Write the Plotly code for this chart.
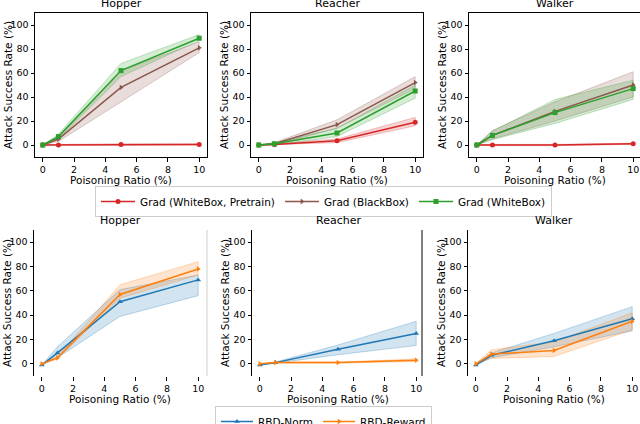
import plotly.graph_objects as go

W, H = 640, 424
x_ratio = [0, 1, 5, 10]
x_ticks = [0, 2, 4, 6, 8, 10]
y_ticks = [0, 20, 40, 60, 80, 100]
envs = ["Hopper", "Reacher", "Walker"]

# ---- top row: Grad attacks ----
grad_names = ["Grad (WhiteBox, Pretrain)", "Grad (BlackBox)", "Grad (WhiteBox)"]
grad_colors = ["#d62728", "#8c564b", "#2ca02c"]
grad_symbols = ["circle", "triangle-right", "square"]

hopper_wp = [0, 0, 0.5, 0.5]
hopper_wp_lo = [0, -0.5, 0, 0]
hopper_wp_hi = [0, 0.5, 1, 1]
hopper_bb = [0, 5, 48, 81]
hopper_bb_lo = [0, 3, 36, 77]
hopper_bb_hi = [0, 7, 62, 86]
hopper_wb = [0, 7, 62, 89]
hopper_wb_lo = [0, 5, 57, 87]
hopper_wb_hi = [0, 9, 68, 92]

reacher_wp = [0, 0.5, 3.5, 19]
reacher_wp_lo = [0, 0, 2, 16]
reacher_wp_hi = [0, 1, 5, 23]
reacher_bb = [0, 1, 17, 52]
reacher_bb_lo = [0, 0, 14, 47]
reacher_bb_hi = [0, 2, 21, 57]
reacher_wb = [0, 1, 10, 45]
reacher_wb_lo = [0, 0, 7, 39]
reacher_wb_hi = [0, 2, 14, 50]

walker_wp = [0, 0, 0, 1]
walker_wp_lo = [0, -0.5, -0.5, 0.5]
walker_wp_hi = [0, 0.5, 0.5, 1.5]
walker_bb = [0, 8, 28, 50]
walker_bb_lo = [0, 5, 20, 40]
walker_bb_hi = [0, 12, 36, 61]
walker_wb = [0, 8, 27, 47]
walker_wb_lo = [0, 4.5, 18, 38]
walker_wb_hi = [0, 11.5, 38, 54]

# ---- bottom row: RBD attacks ----
rbd_names = ["RBD-Norm", "RBD-Reward"]
rbd_colors = ["#1f77b4", "#ff7f0e"]
rbd_symbols = ["triangle-up", "triangle-right"]

hopper_norm = [-1, 9, 51, 69]
hopper_norm_lo = [-1, 5, 39, 56]
hopper_norm_hi = [-1, 14, 61, 73]
hopper_reward = [0, 5, 57, 78]
hopper_reward_lo = [0, 4, 54, 73]
hopper_reward_hi = [0, 6, 65, 84]

reacher_norm = [-1, 1, 12, 25]
reacher_norm_lo = [-1, 0.5, 7.5, 15]
reacher_norm_hi = [-1, 1.5, 15.5, 35]
reacher_reward = [0, 1, 1, 3]
reacher_reward_lo = [0, 0.5, 0.5, 2]
reacher_reward_hi = [0, 1.5, 1.5, 4]

walker_norm = [-1, 7, 19, 37]
walker_norm_lo = [-1, 5, 14, 27]
walker_norm_hi = [-1, 9, 25, 47]
walker_reward = [0, 8, 11, 35]
walker_reward_lo = [0, 4.5, 6, 28]
walker_reward_hi = [0, 11.5, 18, 42]

top_data = [
    [(hopper_wp, hopper_wp_lo, hopper_wp_hi), (hopper_bb, hopper_bb_lo, hopper_bb_hi), (hopper_wb, hopper_wb_lo, hopper_wb_hi)],
    [(reacher_wp, reacher_wp_lo, reacher_wp_hi), (reacher_bb, reacher_bb_lo, reacher_bb_hi), (reacher_wb, reacher_wb_lo, reacher_wb_hi)],
    [(walker_wp, walker_wp_lo, walker_wp_hi), (walker_bb, walker_bb_lo, walker_bb_hi), (walker_wb, walker_wb_lo, walker_wb_hi)],
]
bottom_data = [
    [(hopper_norm, hopper_norm_lo, hopper_norm_hi), (hopper_reward, hopper_reward_lo, hopper_reward_hi)],
    [(reacher_norm, reacher_norm_lo, reacher_norm_hi), (reacher_reward, reacher_reward_lo, reacher_reward_hi)],
    [(walker_norm, walker_norm_lo, walker_norm_hi), (walker_reward, walker_reward_lo, walker_reward_hi)],
]

FONT = "DejaVu Sans"


def px_x(p):
    return p / W


def px_y(p):
    return 1 - p / H


def rgba(hexc, a):
    h = hexc.lstrip("#")
    return "rgba(%d,%d,%d,%s)" % (int(h[0:2], 16), int(h[2:4], 16), int(h[4:6], 16), a)


# panel pixel boxes: (left, right, top, bottom)
top_boxes = [(35, 207, 13, 157), (251, 423, 13, 157), (469, 640, 13, 157)]
bot_boxes = [(34, 206, 230, 376), (252, 424, 230, 376), (468, 640, 230, 376)]

fig = go.Figure()
layout = {}
annotations = []


def add_axes(idx, box, full_frame):
    l, r, t, b = box
    xa = "xaxis" if idx == 1 else "xaxis%d" % idx
    ya = "yaxis" if idx == 1 else "yaxis%d" % idx
    xr = [-0.5, 10.5]
    if r >= 640 and (r - l) < 172:
        xr = [-0.5, -0.5 + 11 * (r - l) / 172]
    common = dict(showgrid=False, zeroline=False, ticks="outside", ticklen=3.5,
                  tickwidth=0.8, tickcolor="black", automargin=False,
                  tickfont=dict(family=FONT, size=9.5, color="black"))
    layout[xa] = dict(domain=[px_x(l), px_x(r)], range=xr, tickvals=x_ticks,
                      anchor="y" if idx == 1 else "y%d" % idx,
                      showline=full_frame, mirror=full_frame, linecolor="black", linewidth=1,
                      **common)
    layout[ya] = dict(domain=[px_y(b), px_y(t)], range=[-10, 110], tickvals=y_ticks,
                      anchor="x" if idx == 1 else "x%d" % idx,
                      showline=True, mirror=full_frame, linecolor="black", linewidth=1,
                      **common)


def add_series(idx, series, names, colors, symbols, legend_name, show_legend):
    xref = "x" if idx == 1 else "x%d" % idx
    yref = "y" if idx == 1 else "y%d" % idx
    for (vals, lo, hi), name, col, sym in zip(series, names, colors, symbols):
        fig.add_trace(go.Scatter(
            x=x_ratio + x_ratio[::-1], y=hi + lo[::-1], fill="toself",
            fillcolor=rgba(col, 0.2), line=dict(color=rgba(col, 0.35), width=0.8),
            mode="lines", hoverinfo="skip", showlegend=False, xaxis=xref, yaxis=yref))
    for (vals, lo, hi), name, col, sym in zip(series, names, colors, symbols):
        fig.add_trace(go.Scatter(
            x=x_ratio, y=vals, mode="lines+markers", name=name,
            line=dict(color=col, width=1.5),
            marker=dict(symbol=sym, size=5, color=col),
            showlegend=show_legend, legend=legend_name, xaxis=xref, yaxis=yref))


for i in range(3):
    idx = i + 1
    add_axes(idx, top_boxes[i], True)
    add_series(idx, top_data[i], grad_names, grad_colors, grad_symbols, "legend", i == 0)
    idx2 = i + 4
    add_axes(idx2, bot_boxes[i], False)
    add_series(idx2, bottom_data[i], rbd_names, rbd_colors, rbd_symbols, "legend2", i == 0)

# titles and axis labels
for boxes, title_y, xlab_y in [(top_boxes, 12.5, 179.5), (bot_boxes, 229, 398.5)]:
    for i, (l, r, t, b) in enumerate(boxes):
        cx = (l + 0.5 * (r - l) * 1.0)
        if r >= 640:
            cx = l + 86
        annotations.append(dict(text=envs[i], x=px_x(cx), y=px_y(title_y), xref="paper", yref="paper",
                                xanchor="center", yanchor="bottom", showarrow=False,
                                font=dict(family=FONT, size=11, color="black")))
        annotations.append(dict(text="Poisoning Ratio (%)", x=px_x(cx), y=px_y(xlab_y), xref="paper",
                                yref="paper", xanchor="center", yanchor="middle", showarrow=False,
                                font=dict(family=FONT, size=10.5, color="black")))
        annotations.append(dict(text="Attack Success Rate (%)", x=px_x(l - 27), y=px_y((t + b) / 2),
                                xref="paper", yref="paper", xanchor="center", yanchor="middle",
                                textangle=-90, showarrow=False,
                                font=dict(family=FONT, size=10.5, color="black")))

shapes = [
    dict(type="line", xref="paper", yref="paper", x0=px_x(207), x1=px_x(207), y0=px_y(230), y1=px_y(376),
         line=dict(color="#cfcfcf", width=1)),
    dict(type="line", xref="paper", yref="paper", x0=px_x(422), x1=px_x(422), y0=px_y(230), y1=px_y(376),
         line=dict(color="black", width=1)),
]

fig.update_layout(
    autosize=True, margin=dict(l=0, r=0, t=0, b=0, autoexpand=False),
    paper_bgcolor="white", plot_bgcolor="white", hovermode=False,
    font=dict(family=FONT, size=10, color="black"),
    annotations=annotations, shapes=shapes,
    legend=dict(orientation="h", x=px_x(323.5), y=px_y(186), xanchor="center", yanchor="top",
                bordercolor="#cccccc", borderwidth=1, bgcolor="white",
                font=dict(family=FONT, size=10.5), itemwidth=34, tracegroupgap=0),
    legend2=dict(orientation="h", x=px_x(323.5), y=px_y(406), xanchor="center", yanchor="top",
                 bordercolor="#cccccc", borderwidth=1, bgcolor="white",
                 font=dict(family=FONT, size=10.5), itemwidth=32),
    showlegend=True,
    **layout,
)

fig.write_html("out.html",
               default_width="%dpx" % W,
               default_height="%dpx;position:absolute;left:0;top:0" % H,
               config={"displayModeBar": False, "responsive": False})
